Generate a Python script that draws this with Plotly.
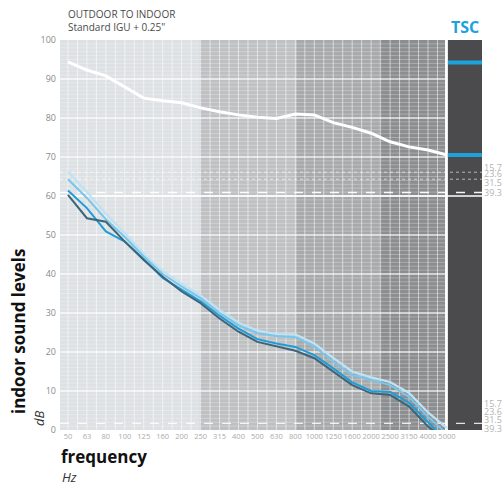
import plotly.graph_objects as go

# ---- data ----
freq_labels = ["50", "63", "80", "100", "125", "160", "200", "250", "315", "400", "500",
               "630", "800", "1000", "1250", "1600", "2000", "2500", "3150", "4000", "5000"]
outdoor = [94.4, 92.3, 90.8, 88.0, 85.1, 84.4, 83.9, 82.6, 81.6, 80.8, 80.2,
           79.9, 81.0, 80.8, 78.8, 77.6, 76.1, 73.9, 72.6, 71.8, 70.5]
indoor_dark = [60.3, 54.3, 53.4, 48.3, 43.6, 39.3, 35.5, 32.5, 28.6, 25.2, 22.6,
               21.4, 20.3, 18.4, 15.0, 11.5, 9.4, 9.0, 6.0, 0.9, -3.0]
indoor_mid = [61.4, 56.9, 50.9, 48.3, 43.8, 39.0, 36.0, 33.0, 29.3, 26.0, 23.3,
              22.2, 21.3, 19.2, 15.8, 12.2, 10.0, 9.8, 7.0, 2.0, -3.0]
indoor_light = [64.3, 59.5, 54.0, 49.5, 44.5, 40.0, 36.8, 33.8, 30.0, 26.9, 24.8,
                24.1, 23.8, 21.4, 17.5, 14.1, 12.8, 11.5, 8.5, 3.4, -1.0]
indoor_pale = [66.2, 61.0, 55.5, 50.5, 45.2, 40.8, 37.5, 34.5, 30.8, 27.5, 25.5,
               24.6, 24.5, 22.2, 18.5, 15.0, 13.5, 12.3, 9.5, 4.5, 0.5]
tsc_marks = [94.2, 70.5]
right_labels = ["15.7", "23.6", "31.5", "39.3"]
right_label_y_top = [67.4, 65.8, 63.4, 60.8]
right_label_y_bot = [6.9, 4.7, 2.6, 0.4]
y_ticks = [0, 10, 20, 30, 40, 50, 60, 70, 80, 90, 100]

idx = list(range(len(freq_labels)))
X0, X1 = -0.42, 21.85
GRID_END = 19.9
TSC0 = 20.05

fig = go.Figure()

series = [
    (indoor_pale, "#bfe3f5", 2.2),
    (indoor_light, "#78c6ea", 2.0),
    (indoor_mid, "#1e9dd8", 2.0),
    (indoor_dark, "#3d6479", 2.0),
    (outdoor, "#ffffff", 3.0),
]
for ys, col, w in series:
    fig.add_trace(go.Scatter(x=idx, y=ys, mode="lines",
                             line=dict(color=col, width=w), hoverinfo="skip",
                             showlegend=False))

shapes = []
bands = [(X0, 6.95, "#dde1e3"), (6.95, 12.05, "#bfc0c2"),
         (12.05, 16.45, "#a8a9ab"), (16.45, GRID_END, "#8c8d8f")]
for a, b, c in bands:
    shapes.append(dict(type="rect", xref="x", yref="y", x0=a, x1=b, y0=0, y1=100,
                       fillcolor=c, line_width=0, layer="below"))
shapes.append(dict(type="rect", xref="x", yref="y", x0=TSC0, x1=X1, y0=0, y1=100,
                   fillcolor="#4b4b4d", line_width=0, layer="below"))

for v in range(1, 100):
    if v % 10 == 0:
        continue
    shapes.append(dict(type="line", xref="x", yref="y", x0=X0, x1=GRID_END, y0=v, y1=v,
                       line=dict(color="rgba(255,255,255,0.28)", width=1), layer="below"))
k = -0.5
while k <= 19.6:
    shapes.append(dict(type="line", xref="x", yref="y", x0=k, x1=k, y0=0, y1=100,
                       line=dict(color="rgba(255,255,255,0.55)", width=1), layer="below"))
    k += 0.5
for v in range(10, 100, 10):
    shapes.append(dict(type="line", xref="x", yref="y", x0=X0, x1=GRID_END, y0=v, y1=v,
                       line=dict(color="rgba(255,255,255,0.8)", width=1.3), layer="below"))

shapes.append(dict(type="line", xref="x", yref="y", x0=X0, x1=X1, y0=66.1, y1=66.1,
                   line=dict(color="rgba(255,255,255,0.6)", width=1, dash="dot"), layer="below"))
shapes.append(dict(type="line", xref="x", yref="y", x0=X0, x1=X1, y0=64.3, y1=64.3,
                   line=dict(color="rgba(255,255,255,0.6)", width=1, dash="dot"), layer="below"))
shapes.append(dict(type="line", xref="x", yref="y", x0=X0, x1=X1, y0=60.9, y1=60.9,
                   line=dict(color="rgba(255,255,255,0.95)", width=1.5, dash="dash"), layer="below"))
shapes.append(dict(type="line", xref="x", yref="y", x0=X0, x1=X1, y0=60, y1=60,
                   line=dict(color="#ffffff", width=1.6), layer="below"))
shapes.append(dict(type="line", xref="x", yref="y", x0=X0, x1=X1, y0=1.7, y1=1.7,
                   line=dict(color="rgba(255,255,255,0.85)", width=1.3, dash="dash"), layer="below"))

for v in tsc_marks:
    shapes.append(dict(type="line", xref="x", yref="y", x0=TSC0, x1=X1, y0=v, y1=v,
                       line=dict(color="#1ca3de", width=4), layer="above"))

annotations = []
for t, yv in zip(right_labels, right_label_y_top):
    annotations.append(dict(x=X1, y=yv, xref="x", yref="y", text=t, showarrow=False,
                            xanchor="left", xshift=0, font=dict(size=9, color="#b3b3b3")))
for t, yv in zip(right_labels, right_label_y_bot):
    annotations.append(dict(x=X1, y=yv, xref="x", yref="y", text=t, showarrow=False,
                            xanchor="left", xshift=0, font=dict(size=9, color="#b3b3b3")))

W, H = 503, 485
ML, MR, MT, MB = 60, 21, 40, 55

def pap(x, y):
    return (x - ML) / (W - ML - MR), 1 - (y - MT) / (H - MT - MB)

def add_text(x, y, text, size, color, anchor="left", angle=0):
    ax, ay = pap(x, y)
    annotations.append(dict(x=ax, y=ay, xref="paper", yref="paper", text=text,
                            showarrow=False, xanchor=anchor, yanchor="middle",
                            textangle=angle,
                            font=dict(size=size, color=color, family="Open Sans")))

add_text(66, 14, "OUTDOOR TO INDOOR", 10, "#4a4a4a")
add_text(66, 27, "Standard IGU + 0.25\"", 10, "#4a4a4a")
add_text(465, 27, "<b>TSC</b>", 16, "#1ca3de", anchor="center")
add_text(18, 332, "<b>indoor sound levels</b>", 17, "#111111", anchor="center", angle=-90)
add_text(39, 418, "<i>dB</i>", 13, "#333333", anchor="center", angle=-90)
add_text(59, 456, "<b>frequency</b>", 17, "#111111")
add_text(60, 477, "<i>Hz</i>", 13, "#333333")

fig.update_layout(
    width=W, height=H,
    margin=dict(l=ML, r=MR, t=MT, b=MB),
    plot_bgcolor="#ffffff", paper_bgcolor="#ffffff",
    shapes=shapes, annotations=annotations,
    xaxis=dict(range=[X0, X1], tickvals=idx, ticktext=freq_labels, showgrid=False,
               zeroline=False, showline=False, ticks="", tickangle=0,
               tickfont=dict(size=7.5, color="#aaaaaa", family="Open Sans"),
               fixedrange=True),
    yaxis=dict(range=[0, 100], tickvals=y_ticks, showgrid=False, zeroline=False,
               showline=False, ticks="", ticklabelstandoff=3,
               tickfont=dict(size=9, color="#8a8a8a", family="Open Sans"),
               fixedrange=True),
    showlegend=False,
)

fig.write_html("out.html", config={"displayModeBar": False},
               post_script="document.body.style.margin='0';document.body.style.overflow='hidden';")
